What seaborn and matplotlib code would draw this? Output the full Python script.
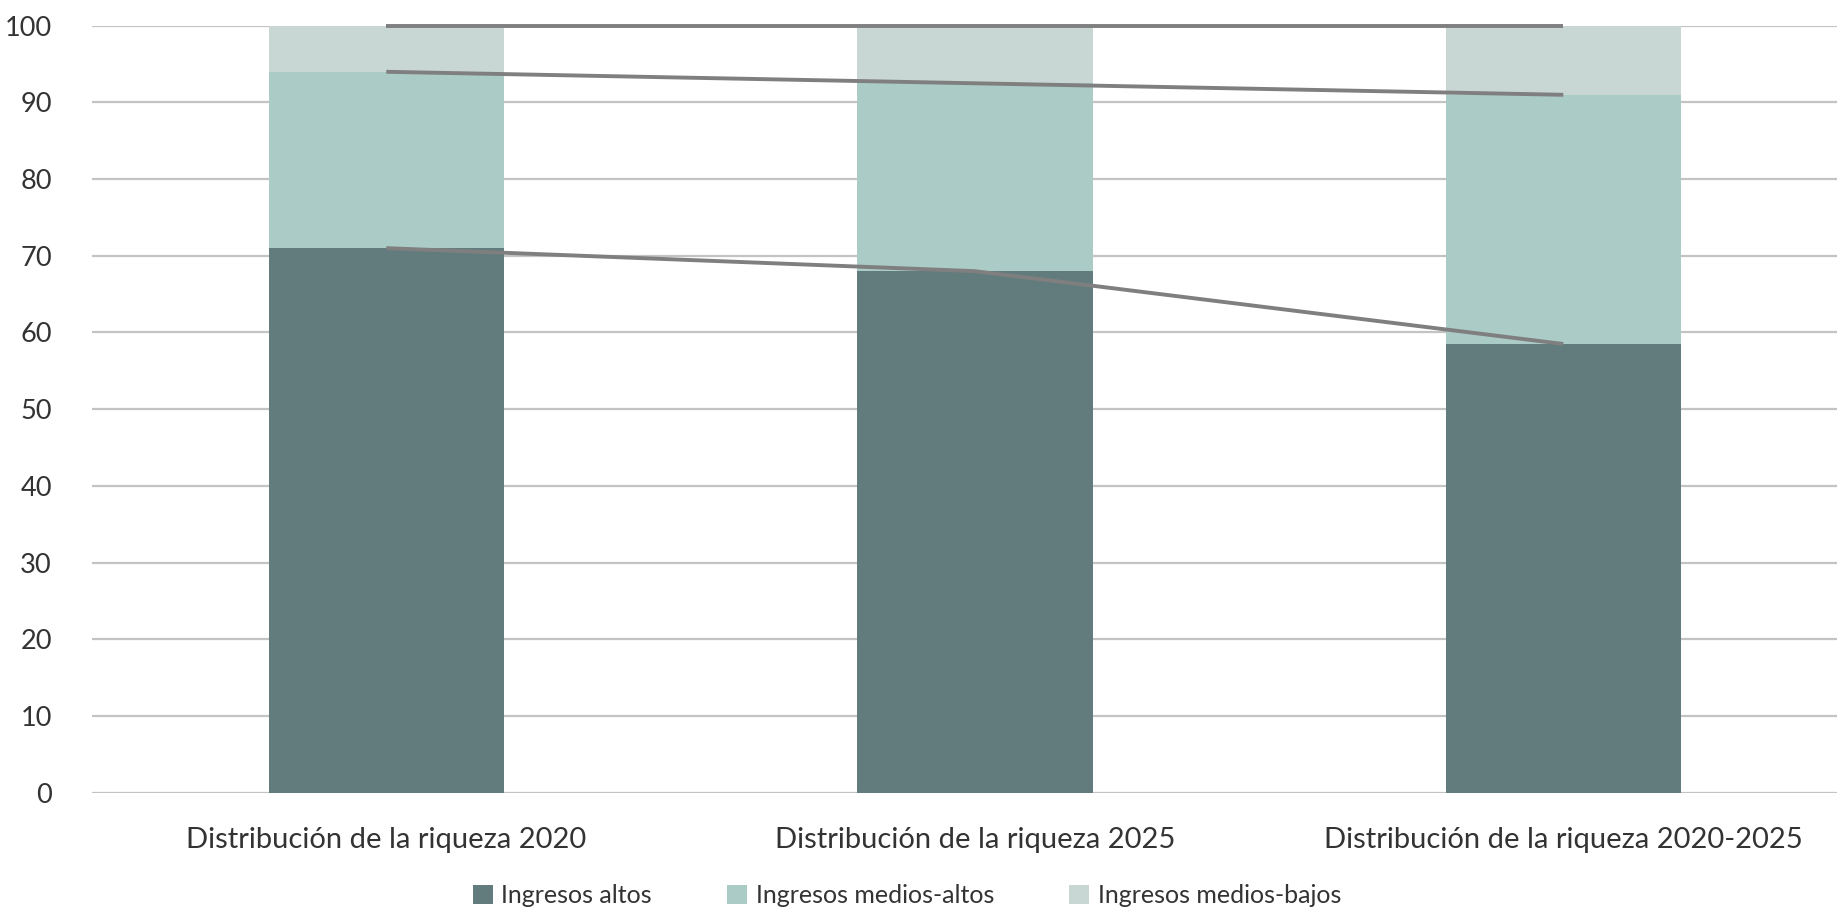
import matplotlib
matplotlib.use("Agg")
import matplotlib.pyplot as plt
import seaborn as sns
import numpy as np
import pandas as pd
from matplotlib.patches import Patch

categories = ["Distribución de la riqueza 2020", "Distribución de la riqueza 2025", "Distribución de la riqueza 2020-2025"]
series_names = ["Ingresos altos", "Ingresos medios-altos", "Ingresos medios-bajos"]
altos = [71, 68, 58.5]
medios_altos = [23, 24.5, 32.5]
medios_bajos = [6, 7.5, 9]
yticks = [0, 10, 20, 30, 40, 50, 60, 70, 80, 90, 100]

colors = ["#627B7D", "#ABCBC6", "#C8D7D3"]
line_color = "#7F7F7F"
text_color = "#333333"

sns.set_theme(style="white")
plt.rcParams["font.family"] = ["Lato", "DejaVu Sans"]

fig = plt.figure(figsize=(18.37, 9.11), dpi=100)
ax = fig.add_axes([0.0501, 0.130, 0.9611, 0.8417])

cum1 = np.array(altos)
cum2 = cum1 + np.array(medios_altos)
cum3 = cum2 + np.array(medios_bajos)

df = pd.DataFrame({"cat": categories, "c1": cum1, "c2": cum2, "c3": cum3})

for col, c in zip(["c3", "c2", "c1"], [colors[2], colors[1], colors[0]]):
    sns.barplot(data=df, x="cat", y=col, color=c, width=0.4, ax=ax,
                saturation=1, edgecolor="none", linewidth=0, zorder=2)

xs = np.arange(len(categories))
for cum in (cum1, cum2, cum3):
    ax.plot(xs, cum, color=line_color, lw=2.8, zorder=4, solid_capstyle="butt",
            clip_on=False)

ax.set_xlim(-0.5, 2.5)
ax.set_ylim(0, 100)
ax.set_yticks(yticks)
ax.yaxis.grid(True, color="#C3C3C3", lw=1.6)
ax.set_axisbelow(True)
for s in ax.spines.values():
    s.set_visible(False)
ax.set_xlabel("")
ax.set_ylabel("")
ax.tick_params(axis="y", length=0, pad=29, labelsize=19.5, labelcolor=text_color)
ax.tick_params(axis="x", length=0, pad=25, labelsize=21, labelcolor=text_color)

handles = [Patch(facecolor=c, edgecolor="none") for c in colors]
fig.legend(handles, series_names, loc="center", bbox_to_anchor=(0.4937, 0.0165),
           ncol=3, frameon=False, fontsize=18, labelcolor=text_color,
           handlelength=0.8, handleheight=0.8, handletextpad=0.35,
           columnspacing=3.0, borderaxespad=0)

fig.savefig("out.png", dpi=100)
